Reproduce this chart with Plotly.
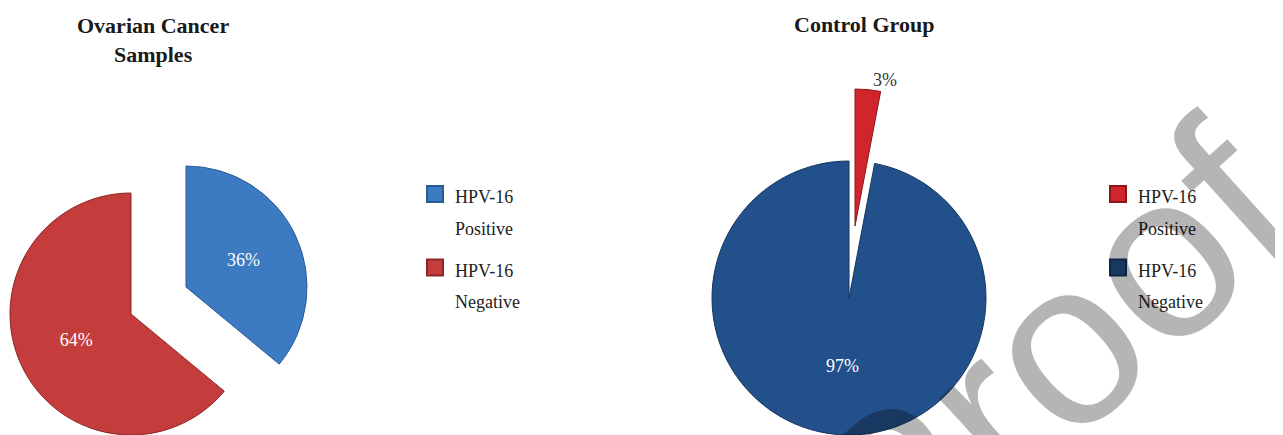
import plotly.graph_objects as go

W, H = 1283, 435
OFF = 8                      # the page body adds an 8px margin
FW, FH = W - OFF, H - OFF    # figure size so that it ends at the window edge

# ---- data ----
categories = ["HPV-16 Positive", "HPV-16 Negative"]
legend_first = ["HPV-16", "HPV-16"]
legend_second = ["Positive", "Negative"]
ovarian_values = [36, 64]
control_values = [3, 97]
ovarian_title = "Ovarian Cancer<br>Samples"
control_title = "Control Group"
watermark = "Proof"

# ---- styles ----
ovarian_colors = ["#3C7AC2", "#C43C3C"]
ovarian_edges = ["#2A5A94", "#8E2626"]
control_colors = ["#D0262B", "#22508A"]
control_edges = ["#8E1518", "#15355E"]
FONT = "Liberation Serif"


def px(x):
    return (x - OFF) / FW


def py(y):
    return 1 - (y - OFF) / FH


def dom(cx, cy, r):
    return dict(x=[px(cx - r), px(cx + r)], y=[py(cy + r), py(cy - r)])


def slice_trace(values, colors, edges, k, center, r, pos, tcolor):
    n = len(values)
    return go.Pie(
        labels=categories, values=values, sort=False, direction="clockwise",
        rotation=0,
        marker=dict(colors=[colors[i] if i == k else "rgba(0,0,0,0)" for i in range(n)],
                    line=dict(color=[edges[i] for i in range(n)],
                              width=[1 if i == k else 0 for i in range(n)])),
        texttemplate=["%{percent:.0%}" if i == k else "" for i in range(n)],
        textposition=[pos if i == k else "none" for i in range(n)],
        insidetextorientation="horizontal",
        textfont=dict(family=FONT, size=18, color=tcolor),
        domain=dom(center[0], center[1], r),
        showlegend=False, hoverinfo="skip",
    )


fig = go.Figure()
# left pie (exploded slices)
fig.add_trace(slice_trace(ovarian_values, ovarian_colors, ovarian_edges, 0, (186, 287), 121, "inside", "white"))
fig.add_trace(slice_trace(ovarian_values, ovarian_colors, ovarian_edges, 1, (131, 314), 121, "inside", "white"))
# right pie
fig.add_trace(slice_trace(control_values, control_colors, control_edges, 1, (849, 298), 137, "inside", "white"))
fig.add_trace(slice_trace(control_values, control_colors, control_edges, 0, (855, 226), 137, "outside", "#333333"))

# legend entries
for lid, cols, eds in [("legend", ovarian_colors, ovarian_edges), ("legend2", control_colors, control_edges)]:
    for i in range(len(categories)):
        name = (f"<span style='font-size:18px'>{legend_first[i]}</span><br>"
                f"<span style='font-size:18px'>{legend_second[i]}</span>")
        fig.add_trace(go.Scatter(
            x=[None], y=[None], mode="markers", name=name,
            marker=dict(symbol="square", size=20, color=cols[i], line=dict(width=2, color=eds[i])),
            legend=lid, legendgroup=f"{lid}_{i}", showlegend=True, hoverinfo="skip"))

leg_common = dict(xanchor="left", yanchor="top", valign="top", tracegroupgap=8,
                  bgcolor="rgba(0,0,0,0)", itemsizing="trace",
                  font=dict(family=FONT, size=24, color="#222222"))

fig.update_layout(
    width=FW, height=FH,
    margin=dict(l=0, r=0, t=0, b=0),
    paper_bgcolor="white", plot_bgcolor="white",
    xaxis=dict(visible=False), yaxis=dict(visible=False),
    legend=dict(x=px(415), y=py(172), **leg_common),
    legend2=dict(x=px(1098), y=py(172), **leg_common),
    annotations=[
        dict(text=ovarian_title, x=px(153), y=py(40), xref="paper", yref="paper",
             showarrow=False, xanchor="center", yanchor="middle",
             font=dict(family=FONT, size=22, color="#1a1a1a", weight="bold")),
        dict(text=control_title, x=px(864), y=py(24), xref="paper", yref="paper",
             showarrow=False, xanchor="center", yanchor="middle",
             font=dict(family=FONT, size=22, color="#1a1a1a", weight="bold")),
        dict(text=watermark, x=px(1048), y=py(358), xref="paper", yref="paper",
             showarrow=False, xanchor="center", yanchor="middle", textangle=-42,
             font=dict(family="Liberation Sans", size=234, color="rgba(0,0,0,0.29)")),
    ],
)

fig.write_html("out.html")
